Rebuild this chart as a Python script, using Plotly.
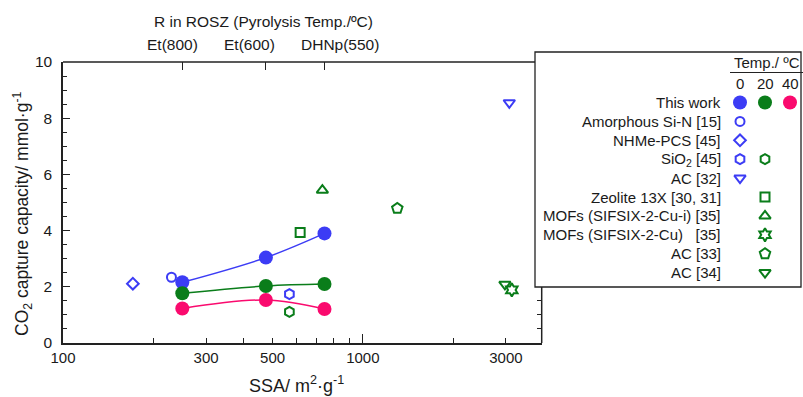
import plotly.graph_objects as go
import math

# ---------------- data ----------------
this_work_ssa = [250, 475, 745]
this_work_labels = ["Et(800)", "Et(600)", "DHNp(550)"]
this_work_0C = [2.16, 3.04, 3.90]
this_work_20C = [1.77, 2.03, 2.10]
this_work_40C = [1.23, 1.53, 1.21]

amorphous_sin_ssa = [230]
amorphous_sin_0C = [2.34]
nhme_pcs_ssa = [171]
nhme_pcs_0C = [2.11]
sio2_ssa = [569]
sio2_0C = [1.74]
sio2_20C = [1.11]
ac32_ssa = [3080]
ac32_0C = [8.55]
zeolite_ssa = [618]
zeolite_20C = [3.93]
mofs_i_ssa = [733]
mofs_i_20C = [5.44]
mofs_ssa = [3140]
mofs_20C = [1.89]
ac33_ssa = [1303]
ac33_20C = [4.79]
ac34_ssa = [2978]
ac34_20C = [2.09]

x_tickvals = [100, 200, 300, 400, 500, 600, 700, 800, 900, 1000, 2000, 3000]
x_ticktext = ["100", "", "300", "", "500", "", "", "", "", "1000", "", "3000"]

legend_rows = ["This work", "Amorphous Si-N [15]", "NHMe-PCS [45]", "SiO<sub>2</sub> [45]", "AC [32]",
               "Zeolite 13X [30, 31]", "MOFs (SIFSIX-2-Cu-i) [35]", "MOFs (SIFSIX-2-Cu)   [35]",
               "AC [33]", "AC [34]"]
temp_cols = ["0", "20", "40"]

BLUE = "#3c3cf5"
GREEN = "#0a7d1a"
PINK = "#fa0a6e"
FONT = "Liberation Sans, Arial, sans-serif"
TXT = "#1a1a1a"

# ---------------- geometry (pixels) ----------------
W, H = 803, 397
ML, MR, MT, MB = 63, 0, 40, 54
PW, PH = W - ML - MR, H - MT - MB
def px(xp):  # pixel -> paper x
    return (xp - ML) / PW
def py(yp):  # pixel -> paper y
    return (H - MB - yp) / PH

plot_right = 541.7
plot_top = 62
box_l, box_r, box_t, box_b = 535, 801, 52, 287
top_label_px = [172, 249, 340]  # label centres (labels nudged apart as in the original)

fig = go.Figure()

# main series
def line_trace(y, color):
    return go.Scatter(x=this_work_ssa, y=y, mode="lines+markers",
                      line=dict(color=color, width=1.5, shape="spline", smoothing=1),
                      marker=dict(color=color, size=14), showlegend=False,
                      xaxis="x", yaxis="y")

fig.add_trace(line_trace(this_work_0C, BLUE))
fig.add_trace(line_trace(this_work_20C, GREEN))
fig.add_trace(line_trace(this_work_40C, PINK))

def pt(x, y, sym, color, size=10):
    return go.Scatter(x=x, y=y, mode="markers",
                      marker=dict(symbol=sym, color=color, size=size, line=dict(color=color, width=2)),
                      showlegend=False, xaxis="x", yaxis="y")

others = [
    (amorphous_sin_ssa, amorphous_sin_0C, "circle-open", BLUE, 9),
    (nhme_pcs_ssa, nhme_pcs_0C, "diamond-open", BLUE, 9),
    (sio2_ssa, sio2_0C, "hexagon-open", BLUE, 10),
    (sio2_ssa, sio2_20C, "hexagon-open", GREEN, 10),
    (ac32_ssa, ac32_0C, "triangle-down-open", BLUE, 10),
    (zeolite_ssa, zeolite_20C, "square-open", GREEN, 9),
    (mofs_i_ssa, mofs_i_20C, "triangle-up-open", GREEN, 10),
    (mofs_ssa, mofs_20C, "hexagram-open", GREEN, 10),
    (ac33_ssa, ac33_20C, "pentagon-open", GREEN, 11),
    (ac34_ssa, ac34_20C, "triangle-down-open", GREEN, 10),
]
for o in others:
    fig.add_trace(pt(*o))

# invisible traces so overlay axes get drawn
for xa, ya in [("x2", "y"), ("x4", "y"), ("x", "y4")]:
    fig.add_trace(go.Scatter(x=[this_work_ssa[0]], y=[this_work_0C[0]], mode="markers",
                             marker=dict(opacity=0), showlegend=False, hoverinfo="skip",
                             xaxis=xa, yaxis=ya))

# ---------------- custom legend (table) ----------------
col_px0, col_dx = 740, 25
row_py0, row_dy = 102.5, 18.9
lx_range = [(box_l - col_px0) / col_dx, (W - col_px0) / col_dx]
ly_range = [(box_b - row_py0) / row_dy, (box_t - row_py0) / row_dy]

leg_markers = [
    (0, 0, "circle", BLUE, 14), (0, 1, "circle", GREEN, 14), (0, 2, "circle", PINK, 14),
    (1, 0, "circle-open", BLUE, 9),
    (2, 0, "diamond-open", BLUE, 9),
    (3, 0, "hexagon-open", BLUE, 10), (3, 1, "hexagon-open", GREEN, 10),
    (4, 0, "triangle-down-open", BLUE, 10),
    (5, 1, "square-open", GREEN, 9),
    (6, 1, "triangle-up-open", GREEN, 10),
    (7, 1, "hexagram-open", GREEN, 10),
    (8, 1, "pentagon-open", GREEN, 11),
    (9, 1, "triangle-down-open", GREEN, 10),
]
for r, c, sym, color, size in leg_markers:
    fig.add_trace(go.Scatter(x=[c], y=[r], mode="markers",
                             marker=dict(symbol=sym, color=color, size=size,
                                         line=dict(color=color, width=2 if "open" in sym else 0)),
                             showlegend=False, xaxis="x3", yaxis="y3", hoverinfo="skip"))

annotations = []
for i, lab in enumerate(legend_rows):
    annotations.append(dict(x=-0.68, y=i, xref="x3", yref="y3", text=lab, showarrow=False,
                            xanchor="right", yanchor="middle", font=dict(size=15, color=TXT, family=FONT)))
for j, t in enumerate(temp_cols):
    annotations.append(dict(x=j, y=(83.5 - row_py0) / row_dy, xref="x3", yref="y3", text=t, showarrow=False,
                            xanchor="center", yanchor="middle", font=dict(size=15, color=TXT, family=FONT)))
annotations.append(dict(x=px(802), y=py(62), xref="paper", yref="paper",
                        text="Temp./ ºC", showarrow=False, xanchor="right", yanchor="middle",
                        font=dict(size=15, color=TXT, family=FONT)))

# top-axis labels
for lab, xc in zip(this_work_labels, top_label_px):
    annotations.append(dict(x=px(xc), y=py(45), xref="paper", yref="paper", text=lab, showarrow=False,
                            xanchor="center", yanchor="middle", font=dict(size=15.5, color=TXT, family=FONT)))

annotations.append(dict(x=px(263), y=py(22), xref="paper", yref="paper",
                        text="R in ROSZ (Pyrolysis Temp./ºC)", showarrow=False,
                        xanchor="center", yanchor="middle", font=dict(size=15.5, color=TXT, family=FONT)))
annotations.append(dict(x=px(296), y=py(384), xref="paper", yref="paper",
                        text="SSA/ m<sup>2</sup>·g<sup>-1</sup>", showarrow=False,
                        xanchor="center", yanchor="middle", font=dict(size=18, color=TXT, family=FONT)))
annotations.append(dict(x=px(22), y=py(214), xref="paper", yref="paper",
                        text="CO<sub>2</sub> capture capacity/ mmol·g<sup>-1</sup>", showarrow=False,
                        textangle=-90, xanchor="center", yanchor="middle",
                        font=dict(size=17.5, color=TXT, family=FONT)))

LINE = "#222222"
shapes = [
    dict(type="rect", xref="paper", yref="paper", x0=px(box_l), x1=px(box_r), y0=py(box_b), y1=py(box_t),
         line=dict(color=LINE, width=1.3), fillcolor="rgba(0,0,0,0)", layer="above"),
    dict(type="line", xref="paper", yref="paper", x0=px(730), x1=px(803), y0=py(72.5), y1=py(72.5),
         line=dict(color=LINE, width=1.2)),
    dict(type="line", xref="paper", yref="paper", x0=0, x1=px(box_l), y0=py(plot_top), y1=py(plot_top),
         line=dict(color=LINE, width=1.5)),
    dict(type="line", xref="paper", yref="paper", x0=px(plot_right), x1=px(plot_right), y0=0, y1=py(box_b),
         line=dict(color=LINE, width=1.5)),
]

xdom = [0, px(plot_right)]
ydom = [0, py(plot_top)]
xrange_log = [2, math.log10(3950)]

fig.update_layout(
    width=W, height=H,
    margin=dict(l=ML, r=MR, t=MT, b=MB, autoexpand=False),
    paper_bgcolor="white", plot_bgcolor="rgba(0,0,0,0)",
    font=dict(family=FONT, size=15, color=TXT),
    showlegend=False,
    xaxis=dict(type="log", range=xrange_log, domain=xdom, anchor="y", automargin=False,
               tickmode="array", tickvals=x_tickvals, ticktext=x_ticktext, tickangle=0,
               ticks="inside", ticklen=5, tickcolor=LINE, tickwidth=1,
               showline=True, linecolor=LINE, linewidth=1.5, showgrid=False, zeroline=False,
               tickfont=dict(size=15, color=TXT)),
    xaxis2=dict(type="log", range=xrange_log, domain=xdom, overlaying="x", side="top", anchor="y",
                automargin=False, showticklabels=False,
                tickmode="array", tickvals=this_work_ssa,
                ticks="inside", ticklen=8, tickcolor=LINE, tickwidth=1,
                showline=False, showgrid=False, zeroline=False),
    xaxis4=dict(type="log", range=xrange_log, domain=xdom, overlaying="x", side="bottom", anchor="y",
                automargin=False, showticklabels=False,
                tickmode="array", tickvals=[100, 1000],
                ticks="inside", ticklen=9, tickcolor=LINE, tickwidth=1,
                showline=False, showgrid=False, zeroline=False),
    yaxis=dict(range=[0, 10], domain=ydom, anchor="x", automargin=False,
               tickmode="linear", tick0=0, dtick=2,
               ticks="inside", ticklen=7, tickcolor=LINE, tickwidth=1,
               minor=dict(dtick=0.5, ticks="inside", ticklen=4, tickcolor=LINE),
               showline=True, linecolor=LINE, linewidth=1.5, showgrid=False, zeroline=False,
               ticklabelstandoff=6, tickfont=dict(size=15.5, color=TXT)),
    yaxis4=dict(range=[0, 10], domain=ydom, overlaying="y", side="right", anchor="x", automargin=False,
                tickmode="array", tickvals=[0.5, 1.0, 1.5], showticklabels=False,
                ticks="inside", ticklen=5, tickcolor=LINE, tickwidth=1,
                showline=False, showgrid=False, zeroline=False),
    xaxis3=dict(domain=[px(box_l), 1], range=lx_range, anchor="y3", visible=False, fixedrange=True,
                automargin=False),
    yaxis3=dict(domain=[py(box_b), py(box_t)], range=ly_range, anchor="x3", visible=False, fixedrange=True,
                automargin=False),
    annotations=annotations,
    shapes=shapes,
)

fig.write_html("out.html", config={"displayModeBar": False},
               post_script="document.body.style.margin='0';document.body.style.overflow='hidden';")
